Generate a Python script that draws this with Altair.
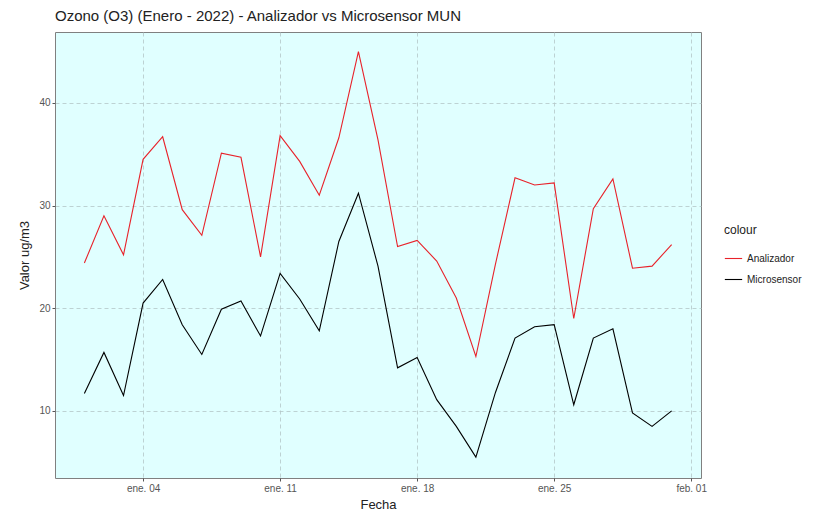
import altair as alt
import pandas as pd

# --- data -------------------------------------------------------------------
fechas = [f"2022-01-{d:02d}" for d in range(1, 32)]
analizador = [24.4, 29.0, 25.2, 34.5, 36.7, 29.6, 27.1, 35.1, 34.7, 25.0,
              36.8, 34.3, 31.0, 36.6, 45.0, 36.4, 26.0, 26.6, 24.6, 21.0,
              15.3, 24.3, 32.7, 32.0, 32.2, 19.0, 29.7, 32.6, 23.9, 24.1, 26.2]
microsensor = [11.7, 15.7, 11.5, 20.5, 22.8, 18.4, 15.5, 19.9, 20.7, 17.3,
               23.4, 20.9, 17.8, 26.5, 31.2, 24.1, 14.2, 15.2, 11.1, 8.5,
               5.5, 11.8, 17.1, 18.2, 18.4, 10.6, 17.1, 18.0, 9.8, 8.5, 10.0]
series = ["Analizador", "Microsensor"]
colores = ["#e8222a", "#000000"]
y_ticks = [10, 20, 30, 40]
x_ticks = [(2022, 1, 4), (2022, 1, 11), (2022, 1, 18), (2022, 1, 25), (2022, 2, 1)]

df = pd.DataFrame({
    "Fecha": fechas * 2,
    "Valor": analizador + microsensor,
    "colour": [series[0]] * len(fechas) + [series[1]] * len(fechas),
})

FONT = "Liberation Sans"

x_values = [alt.DateTime(year=y, month=m, date=d, utc=True) for (y, m, d) in x_ticks]

chart = alt.Chart(df).mark_line(strokeWidth=1.1, clip=True).encode(
    x=alt.X(
        "Fecha:T",
        scale=alt.Scale(
            type="utc",
            domain=[alt.DateTime(year=2021, month=12, date=30, hours=12, utc=True),
                    alt.DateTime(year=2022, month=2, date=1, hours=12, utc=True)],
            nice=False,
        ),
        axis=alt.Axis(
            values=x_values,
            labelExpr="(utcFormat(datum.value, '%m') == '01' ? 'ene. ' : 'feb. ') + utcFormat(datum.value, '%d')",
            title="Fecha",
            titlePadding=5,
        ),
    ),
    y=alt.Y(
        "Valor:Q",
        scale=alt.Scale(domain=[3.47, 46.9], nice=False, zero=False),
        axis=alt.Axis(values=y_ticks, title="Valor ug/m3", titlePadding=7),
    ),
    color=alt.Color(
        "colour:N",
        scale=alt.Scale(domain=series, range=colores),
        legend=alt.Legend(
            title="colour",
            orient="none",
            legendX=669,
            legendY=193,
            symbolType="stroke",
            symbolSize=300,
            symbolStrokeWidth=1.1,
            labelFontSize=10,
            labelColor="#222222",
            titleFontSize=12,
            titleFontWeight="normal",
            titleColor="#222222",
            rowPadding=6,
            titlePadding=12,
            labelFont=FONT,
            titleFont=FONT,
        ),
    ),
).properties(
    width=646,
    height=446,
    title=alt.TitleParams(
        "Ozono (O3) (Enero - 2022) - Analizador vs Microsensor MUN",
        frame="group",
    ),
    autosize=alt.AutoSizeParams(type="none"),
    padding={"left": 47, "top": 24, "right": 121, "bottom": 34},
).configure_view(
    fill="#e0ffff",
    stroke="#808080",
    strokeWidth=1,
).configure_axis(
    domain=False,
    grid=True,
    gridColor="#b4c6c8",
    gridDash=[4, 3],
    gridWidth=0.8,
    tickColor="#555555",
    tickSize=3,
    labelColor="#555555",
    labelFontSize=10,
    labelFont=FONT,
    titleFont=FONT,
    titleFontSize=13,
    titleFontWeight="normal",
    titleColor="#222222",
).configure_title(
    font=FONT,
    fontSize=15,
    fontWeight="normal",
    color="#222222",
    anchor="start",
    offset=8,
)

chart.save("out.html", embed_options={"renderer": "svg", "actions": False})
